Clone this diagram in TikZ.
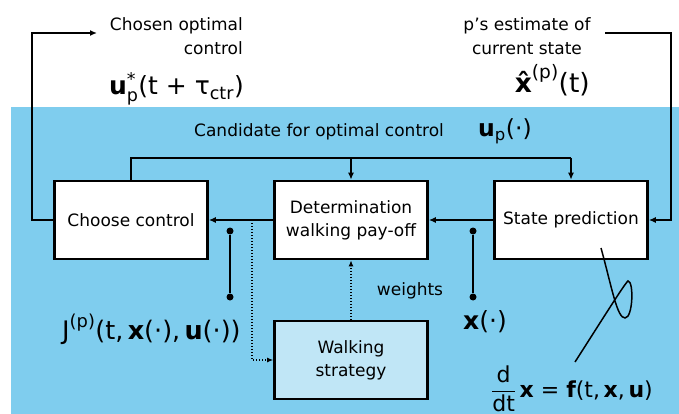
\documentclass[tikz,border=0pt]{standalone}
\usepackage{fontspec}
\usepackage{amsmath}
\setmainfont{DejaVu Sans}
\usetikzlibrary{arrows.meta}
\definecolor{panel}{RGB}{127,205,238}
\definecolor{stratfill}{RGB}{192,230,246}

\tikzset{
  block/.style={draw=black, line width=2.6pt, fill=white, minimum width=153pt,
    minimum height=78pt, align=center, inner sep=2pt,
    font=\fontsize{17}{23}\selectfont},
  flow/.style={line width=1.6pt, -{Latex[length=7pt,width=6pt]}},
  plain/.style={line width=1.6pt},
  hint/.style={line width=1.2pt, dash pattern=on 1.2pt off 1.8pt,
    -{Latex[length=6pt,width=5pt]}},
  label/.style={font=\fontsize{17}{23.5}\selectfont, inner sep=0pt},
  dotend/.style={circle, fill=black, inner sep=0pt, minimum size=7pt},
}

\begin{document}
\begin{tikzpicture}[x=1pt, y=-1pt]
\useasboundingbox (0,0) rectangle (679,414);

% shaded panel holding the controller
\fill[panel] (11,107) rectangle (679,414);

% blocks
\node[block] (choose) at (131,220) {Choose control};
\node[block] (det)    at (351,220) {Determination\\walking pay-off};
\node[block] (state)  at (571,220) {State prediction};
\node[block, fill=stratfill] (walk) at (351,360) {Walking\\strategy};

% outside labels
\node[label, align=right, anchor=north east] (chosen) at (243,17.5) {Chosen optimal\\control};
\node[label, align=center, anchor=north] (estim) at (527,17.5) {p’s estimate of\\current state};
\node[label, font=\fontsize{25}{30}\selectfont, anchor=base east] (uopt) at (244,95)
  {$\text{\bfseries u}_{\text{p}}^{\text{*}}\text{(t + τ}_{\text{ctr}}\text{)}$};
\node[label, font=\fontsize{26.5}{30}\selectfont, anchor=base east] (xhat) at (590,93)
  {$\text{\bfseries x^^^^0302}^{\text{(p)}}\text{(t)}$};

% inside labels
\node[label, anchor=base west] (cand) at (194,137) {Candidate for optimal control};
\node[label, font=\fontsize{23.5}{26}\selectfont, anchor=base west] (ucand) at (478,137)
  {$\text{\bfseries u}_{\text{p}}\text{(·)}$};
\node[label, anchor=base] (weights) at (410,295) {weights};
\node[label, font=\fontsize{25}{28}\selectfont, anchor=base west] (xtraj) at (463,329)
  {$\text{\bfseries x}\text{(·)}$};
\node[label, font=\fontsize{25.5}{28}\selectfont, anchor=base west] (payoff) at (62,339)
  {$\text{J}^{\text{(p)}}\text{(t,\,{\bfseries x}(·),\,{\bfseries u}(·))}$};
\node[label, font=\fontsize{22}{26}\selectfont, anchor=base west] (ode) at (491,397)
  {$\dfrac{\text{d}}{\text{dt}}\,\text{\bfseries x}\text{ = }\text{\bfseries f}\text{(t,\,{\bfseries x},\,{\bfseries u})}$};

% feedback to and from the outside
\coordinate (cornerL) at (32,33);
\coordinate (outL) at (97,33);
\coordinate (inR) at (605,33);
\coordinate (cornerR) at (671,33);
\draw[flow] (choose.west) -| (cornerL) -- (outL);
\draw[flow] (inR) -- (cornerR) |- (state.east);

% candidate control bus
\coordinate (busL) at (131,158);
\coordinate (busM) at (det.north |- busL);
\coordinate (busR) at (state.north |- busL);
\draw[plain] (choose.north) -- (busL) -- (busR);
\draw[flow] (busM) -- (det.north);
\draw[flow] (busR) -- (state.north);

% main chain
\draw[flow] (state.west) -- (det.east);
\draw[flow] (det.west) -- (choose.east);

% walking strategy links
\coordinate (tap) at (252,220);
\draw[hint] (tap) |- (walk.west);
\draw[hint] (walk.north) -- (det.south);

% signal markers
\node[dotend] (jtop) at (230,231) {};
\node[dotend] (jbot) at (230,297) {};
\draw[plain] (jtop) -- (jbot);
\node[dotend] (xtop) at (473,231) {};
\node[dotend] (xbot) at (473,297) {};
\draw[plain] (xtop) -- (xbot);

% looped pointer from the predictor to its model
\coordinate (cs) at (601,248);
\coordinate (ce) at (575,362);
\draw[line width=1.5pt] (cs) .. controls (612,288) and (617,318) .. (625,318)
  .. controls (633,318) and (634,281) .. (628,281)
  .. controls (625,283) and (600,323) .. (ce);
\end{tikzpicture}
\end{document}
